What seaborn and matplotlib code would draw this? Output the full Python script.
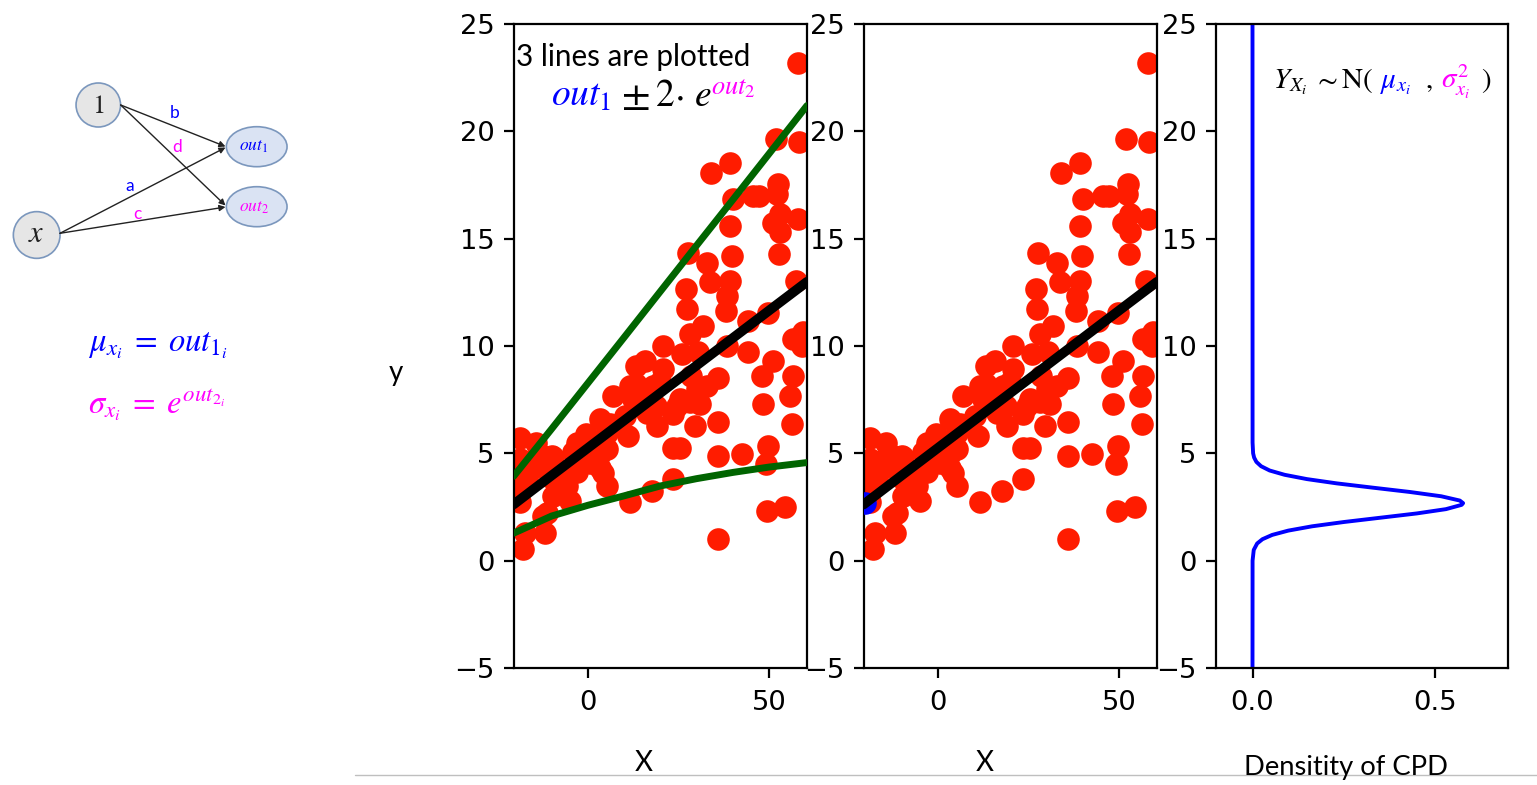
import matplotlib
matplotlib.use("Agg")
import matplotlib.pyplot as plt
import seaborn as sns
import numpy as np
import pandas as pd
from matplotlib.patches import Ellipse

# ---------------- data ----------------
x_pts = [58.1, 51.9, 58.4, 33.9, 39.2, 40.1, 45.7, 47.3, 52.6, 52.1, 39.2, 53.0, 51.2, 58.1, 53.0,
         52.8, 27.7, 32.8, 39.7, 33.7, 39.2, 27.1, 57.6, 38.3, 27.3, 38.1, 44.3, 49.8, 28.2, 31.9,
         56.7, 59.0, 59.5, 20.8, 25.9, 30.5, 38.3, 44.3, 51.2, 48.0, 56.7, 13.4, 15.7, 20.8, 13.4,
         18.0, 28.6, 36.0, 7.0, 12.5, 17.6, 24.5, 30.9, 48.4, 55.8, 3.3, 10.2, 16.2, 19.0, 23.6,
         29.6, 36.0, 56.3, -3.1, -0.4, 5.2, 11.1, -18.8, -14.2, -10.0, 23.6, 25.4, 36.0, 42.5, 49.8,
         49.2, -1.3, 3.3, -3.1, 3.3, 5.2, -15.1, -18.8, -16.9, -10.5, -5.9, -9.6, -5.0, -11.4, -11.9,
         11.6, 17.6, 23.6, -17.9, -17.4, 49.4, 54.4, 36.0, -18.8, -19.3,
         11.6, 14.3, 18.9, 5.2, 0.6, 28.2, 30.0, 32.8, -9.6, -12.3, 19.9, 25.4, 6.1, 3.3, -4.0,
         4.2, -5.4, -11.4, -8.6, -12.3, -14.6, -18.8]
y_pts = [23.2, 19.66, 19.48, 18.08, 18.51, 16.84, 16.99, 16.99, 17.54, 17.07, 15.6, 16.14, 15.75, 15.91, 15.29,
         14.28, 14.35, 13.86, 14.2, 12.96, 13.03, 12.65, 13.03, 12.33, 11.71, 11.64, 11.17, 11.56, 10.55, 10.94,
         10.32, 10.0, 10.63, 10.0, 9.62, 9.70, 10.0, 9.70, 9.31, 8.61, 8.61, 9.07, 9.31, 8.92, 8.22,
         8.14, 8.61, 8.53, 7.68, 7.52, 7.44, 7.21, 7.29, 7.29, 7.68, 6.59, 6.75, 6.90, 6.28, 6.82,
         6.28, 6.44, 6.36, 5.50, 5.89, 5.97, 5.81, 5.73, 5.50, 4.88, 5.27, 5.27, 4.88, 4.96, 5.35,
         4.49, 4.88, 4.96, 4.11, 4.34, 3.48, 4.34, 4.73, 3.80, 3.88, 3.48, 3.02, 2.79, 2.24, 1.31,
         2.71, 3.25, 3.80, 0.54, 1.31, 2.32, 2.48, 1.0, 2.71, 3.56,
         8.15, 7.37, 7.21, 5.19, 4.57, 7.37, 8.0, 8.15, 4.81, 4.88, 8.3, 7.52, 6.36, 5.35, 5.04,
         4.10, 3.94, 4.41, 3.49, 2.09, 4.72, 4.10]

line_x = [-20.5, -10, 0, 10, 20, 30, 40, 50, 60.5]
mean_y = [2.62, 3.97, 5.25, 6.53, 7.81, 9.09, 10.37, 11.65, 12.99]
upper_y = [3.93, 6.14, 8.27, 10.40, 12.54, 14.68, 16.81, 18.95, 21.2]
lower_y = [1.28, 2.08, 2.58, 3.02, 3.48, 3.82, 4.11, 4.36, 4.57]

query_x = [-20.0]
query_y = [2.7]

dens_y = [-5, 0, 0.5, 0.8, 1.0, 1.2, 1.4, 1.6, 1.8, 2.0, 2.2, 2.4, 2.6, 2.68, 2.8, 3.0, 3.2,
          3.4, 3.6, 3.8, 4.0, 4.2, 4.4, 4.6, 4.8, 5.0, 5.5, 25]
dens_v = [0, 0.0002, 0.0034, 0.0127, 0.0273, 0.054, 0.098, 0.163, 0.250, 0.350, 0.450, 0.530,
          0.573, 0.577, 0.568, 0.517, 0.431, 0.330, 0.231, 0.149, 0.088, 0.047, 0.0235, 0.0107,
          0.0045, 0.0017, 0.0002, 0]

y_ticks = [-5, 0, 5, 10, 15, 20, 25]
x_ticks = [0, 50]
d_ticks = [0.0, 0.5]
d_ticklabels = ["0.0", "0.5"]

# ---------------- style ----------------
sns.set_theme(style="ticks")
plt.rcParams.update({
    "font.family": ["DejaVu Sans"],
    "mathtext.fontset": "stix",
    "axes.edgecolor": "black",
    "axes.linewidth": 1.6,
    "xtick.color": "black",
    "ytick.color": "black",
    "xtick.major.size": 7,
    "ytick.major.size": 7,
    "xtick.major.width": 1.6,
    "ytick.major.width": 1.6,
    "xtick.labelsize": 19.7,
    "ytick.labelsize": 19.7,
    "xtick.major.pad": 9,
    "ytick.major.pad": 7,
    "axes.facecolor": "white",
})

W, H = 1537, 785
fig = plt.figure(figsize=(W / 100, H / 100), dpi=100)


def px_axes(l, t, r, b, **kw):
    return fig.add_axes([l / W, 1 - b / H, (r - l) / W, (b - t) / H], **kw)


ax1 = px_axes(514, 24, 807, 668)
ax2 = px_axes(864, 24, 1157, 668)
ax3 = px_axes(1216, 24, 1508, 668)

df_pts = pd.DataFrame({"x": x_pts, "y": y_pts})
df_line = pd.DataFrame({"x": line_x, "mean": mean_y, "upper": upper_y, "lower": lower_y})

RED = "#ff1c00"
GREEN = "#006400"
DOT = 265

# panel 1
sns.scatterplot(data=df_pts, x="x", y="y", color=RED, s=DOT, linewidth=0, ax=ax1, zorder=2)
sns.lineplot(data=df_line, x="x", y="upper", color=GREEN, lw=5, ax=ax1,
             estimator=None, sort=False, zorder=3)
sns.lineplot(data=df_line, x="x", y="lower", color=GREEN, lw=5, ax=ax1,
             estimator=None, sort=False, zorder=3)
sns.lineplot(data=df_line, x="x", y="mean", color="black", lw=7, ax=ax1,
             estimator=None, sort=False, zorder=4)

# panel 2
sns.scatterplot(data=df_pts, x="x", y="y", color=RED, s=DOT, linewidth=0, ax=ax2, zorder=2)
sns.scatterplot(x=query_x, y=query_y, color="blue", s=DOT, linewidth=0, ax=ax2, zorder=3)
sns.lineplot(data=df_line, x="x", y="mean", color="black", lw=7, ax=ax2,
             estimator=None, sort=False, zorder=4)

for ax in (ax1, ax2):
    ax.set_xlim(-20.4, 60.5)
    ax.set_xticks(x_ticks)

# panel 3
sns.lineplot(x=dens_v, y=dens_y, orient="y", sort=False, estimator=None,
             color="blue", lw=2.8, ax=ax3)
ax3.set_xlim(-0.1, 0.7)
ax3.set_xticks(d_ticks)
ax3.set_xticklabels(d_ticklabels)

for ax in (ax1, ax2, ax3):
    ax.set_ylim(-5, 25)
    ax.set_yticks(y_ticks)
    ax.set_xlabel("")
    ax.set_ylabel("")
    for sp in ax.spines.values():
        sp.set_visible(True)
        sp.set_color("black")

# ---------------- overlay (slide elements) ----------------
ov = fig.add_axes([0, 0, 1, 1], zorder=10)
ov.set_xlim(0, W)
ov.set_ylim(H, 0)
ov.axis("off")
ov.patch.set_alpha(0)

edge_c = "#7b97bd"
ov.add_patch(Ellipse((98.3, 105), 44.5, 44, facecolor="#e6e6e6", edgecolor=edge_c, lw=1.2))
ov.add_patch(Ellipse((36.7, 235), 46.7, 46.7, facecolor="#e6e6e6", edgecolor=edge_c, lw=1.2))
ov.add_patch(Ellipse((256.7, 146.7), 60.7, 40, facecolor="#dae3f3", edgecolor=edge_c, lw=1.2))
ov.add_patch(Ellipse((256.7, 206.7), 60.7, 40, facecolor="#dae3f3", edgecolor=edge_c, lw=1.2))

arrows = [((120.7, 105), (225.5, 146.5)), ((120.7, 105), (225.5, 205.5)),
          ((60.0, 233.3), (225.5, 147.5)), ((60.0, 233.3), (225.5, 207.0))]
for (x0, y0), (x1, y1) in arrows:
    ov.annotate("", xy=(x1, y1), xytext=(x0, y0),
                arrowprops=dict(arrowstyle="-|>", color="#222222", lw=1.0,
                                mutation_scale=9, shrinkA=0, shrinkB=0))

ov.text(98.3, 106, r"$\mathrm{1}$", fontsize=19, ha="center", va="center", color="#222222")
ov.text(36.7, 234, r"$x$", fontsize=22, ha="center", va="center", color="#222222")
ov.text(254, 146, r"$out_1$", fontsize=12.5, ha="center", va="center", color="blue")
ov.text(254, 207, r"$out_2$", fontsize=12.5, ha="center", va="center", color="magenta")

lab_font = ["Lato", "DejaVu Sans"]
ov.text(175, 113, "b", fontsize=12.5, ha="center", va="center", color="blue", family=lab_font)
ov.text(177, 147, "d", fontsize=12.5, ha="center", va="center", color="magenta", family=lab_font)
ov.text(130, 186, "a", fontsize=12.5, ha="center", va="center", color="blue", family=lab_font)
ov.text(137, 214, "c", fontsize=12.5, ha="center", va="center", color="magenta", family=lab_font)

ov.text(88, 351, r"$\mu_{x_i}\;=\;out_{1_i}$", fontsize=23.5, color="blue", va="baseline")
ov.text(88, 413, r"$\sigma_{x_i}\;=\;e^{out_{2_i}}$", fontsize=23.5, color="magenta", va="baseline")

ov.text(516, 66, "3 lines are plotted", fontsize=21.3, family=lab_font, color="black",
        ha="left", va="baseline")
# out_1 ± 2·e^{out_2}, pieces placed at their positions on the slide
for xx, yy, s, c, sz in [(551, 106, r"$out_1$", "blue", 27),
                         (621, 106, r"$\pm$", "black", 30),
                         (655, 106, r"$2$", "black", 27),
                         (674, 106, r"$\cdot$", "black", 27),
                         (694, 106, r"$e$", "black", 27),
                         (711, 94, r"$out_2$", "magenta", 19)]:
    ov.text(xx, yy, s, color=c, fontsize=sz, ha="left", va="baseline")

# Y ~ N(mu, sigma^2) annotation
for xx, s, c in [(1273, r"$Y_{X_i}$", "black"), (1313, r"$\sim$", "black"),
                 (1341, r"$\mathrm{N}($", "black"), (1380, r"$\mu_{x_i}$", "blue"),
                 (1425, r"$,$", "black"), (1441, r"$\sigma^2_{x_i}$", "magenta"),
                 (1481, r"$)$", "black")]:
    ov.text(xx, 88, s, color=c, fontsize=21, ha="left", va="baseline")

ov.text(396, 373, "y", fontsize=20, family=lab_font, ha="center", va="center", color="black")
ov.text(644, 763, "X", fontsize=20, family=lab_font, ha="center", va="center", color="black")
ov.text(985, 763, "X", fontsize=20, family=lab_font, ha="center", va="center", color="black")
ov.text(1346, 768, "Densitity of CPD", fontsize=19.7, family=lab_font, ha="center", va="center",
        color="black")
ov.plot([355, W], [775, 775], color="#bfbfbf", lw=1.0)

fig.savefig("out.png", dpi=100)
